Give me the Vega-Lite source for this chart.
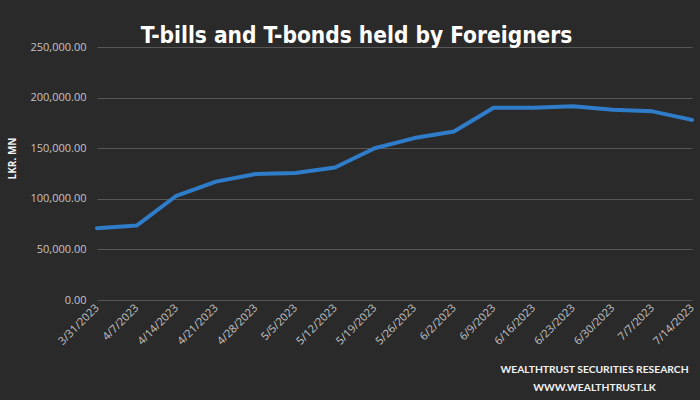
{
  "$schema": "https://vega.github.io/schema/vega-lite/v6.json",
  "width": 595,
  "height": 253,
  "autosize": {"type": "none"},
  "padding": {"left": 97, "top": 47, "right": 8, "bottom": 100},
  "background": "#2a2a2b",
  "title": {
    "text": "T-bills and T-bonds held by Foreigners",
    "font": "DejaVu Sans Condensed",
    "fontSize": 22.5,
    "fontWeight": "bold",
    "color": "#ffffff",
    "anchor": "middle",
    "dx": -38,
    "offset": -6
  },
  "data": {
    "values": [
      {"date": "3/31/2023", "value": 71000},
      {"date": "4/7/2023", "value": 73500},
      {"date": "4/14/2023", "value": 103000},
      {"date": "4/21/2023", "value": 117000},
      {"date": "4/28/2023", "value": 124500},
      {"date": "5/5/2023", "value": 125500},
      {"date": "5/12/2023", "value": 131000},
      {"date": "5/19/2023", "value": 150000},
      {"date": "5/26/2023", "value": 160000},
      {"date": "6/2/2023", "value": 166500},
      {"date": "6/9/2023", "value": 190000},
      {"date": "6/16/2023", "value": 190000},
      {"date": "6/23/2023", "value": 191400},
      {"date": "6/30/2023", "value": 188000},
      {"date": "7/7/2023", "value": 186400},
      {"date": "7/14/2023", "value": 178000}
    ]
  },
  "mark": {"type": "line", "color": "#2f7cc9", "strokeWidth": 4, "strokeJoin": "round", "strokeCap": "round"},
  "encoding": {
    "x": {
      "field": "date",
      "type": "ordinal",
      "sort": null,
      "scale": {"type": "point", "padding": 0},
      "axis": {
        "title": ["WEALTHTRUST SECURITIES RESEARCH", "WWW.WEALTHTRUST.LK"],
        "titleFont": "Lato",
        "titleFontSize": 10.3,
        "titleFontWeight": "bold",
        "titleColor": "#f2f2f2",
        "titleAlign": "center",
        "titleAnchor": "start",
        "titleX": 497,
        "titleY": 64,
        "titleLineHeight": 18,
        "labelAngle": -45,
        "labelAlign": "right",
        "labelBaseline": "middle",
        "labelFont": "Open Sans",
        "labelFontSize": 11,
        "labelColor": "#c4c4c4",
        "labelPadding": 6,
        "ticks": false,
        "domain": false,
        "grid": false
      }
    },
    "y": {
      "field": "value",
      "type": "quantitative",
      "scale": {"domain": [0, 250000], "nice": false},
      "axis": {
        "title": "LKR. MN",
        "titleFont": "Open Sans",
        "titleFontSize": 10,
        "titleFontWeight": "bold",
        "titleColor": "#f2f2f2",
        "titleX": -80,
        "titleY": 111,
        "titleAngle": -90,
        "titleAlign": "center",
        "values": [0, 50000, 100000, 150000, 200000, 250000],
        "format": ",.2f",
        "labelFont": "Open Sans",
        "labelFontSize": 11,
        "labelColor": "#c4c4c4",
        "labelPadding": 11,
        "ticks": false,
        "domain": false,
        "grid": true,
        "gridColor": "#585858",
        "gridWidth": 1
      }
    }
  },
  "config": {
    "view": {"stroke": null}
  }
}
